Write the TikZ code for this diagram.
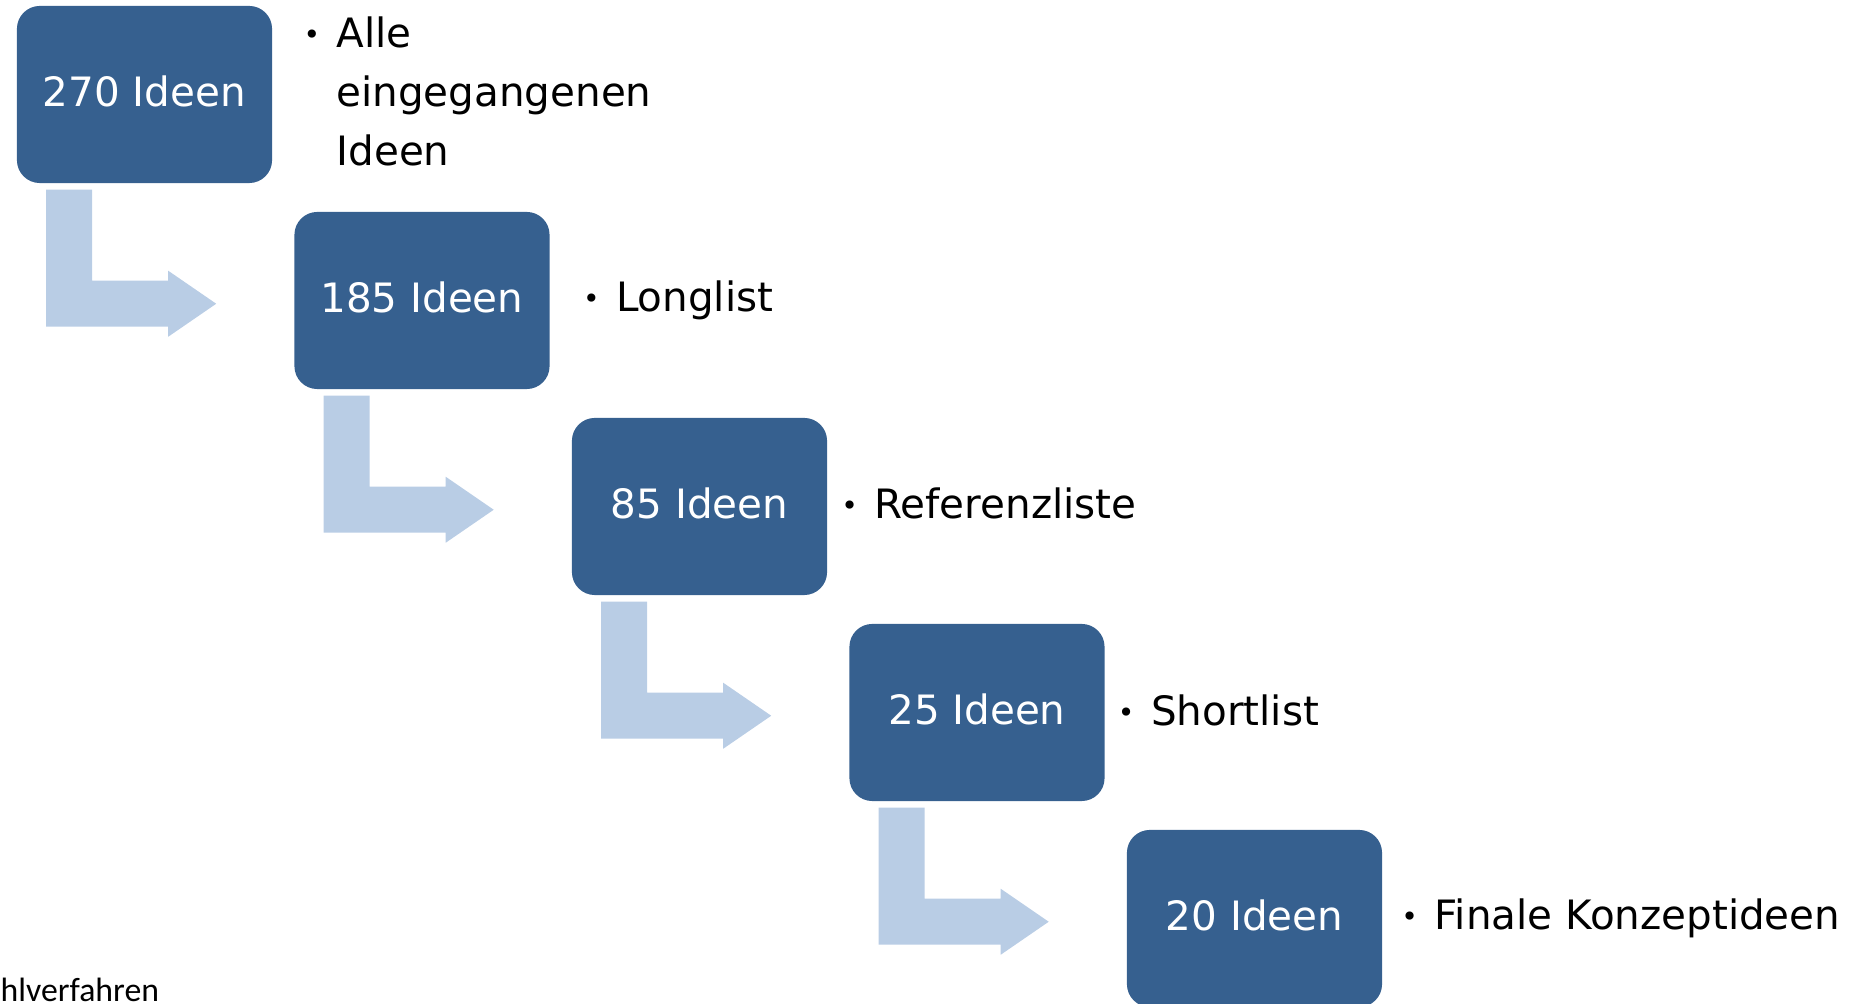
\documentclass[tikz,border=0pt]{standalone}
\usepackage{fontspec}
\setmainfont{DejaVu Sans}
\newfontfamily\capfont{Carlito}
\definecolor{boxblue}{HTML}{36608F}
\definecolor{arrowblue}{HTML}{B9CDE5}
\tikzset{
  ideenbox/.style={fill=boxblue, rounded corners=6.5pt, minimum width=2.55cm, minimum height=1.77cm,
    text=white, inner sep=0pt, text depth=1.7pt, font=\fontsize{11.5}{16.8}\selectfont},
  stufe/.style={anchor=west, inner sep=0pt, align=left, font=\fontsize{11.5}{16.8}\selectfont},
  bentarrow/.style={fill=arrowblue}
}
\newcommand{\blt}{\makebox[0.32cm][l]{\hspace{-0.01cm}\raisebox{0.9pt}{\fontsize{8}{8}\selectfont\textbullet}}}
\newcommand{\bentarr}[1]{\fill[bentarrow, shift={(#1.south west)}] (30,6) -- (76,6) -- (76,97) -- (152,97)
  -- (152,87) -- (200,120) -- (152,153) -- (152,143) -- (30,143) -- cycle;}
\begin{document}
\begin{tikzpicture}[x=0.01cm, y=-0.01cm, line join=round]
			\useasboundingbox (0,0) rectangle (1865,1004);
			% Stufen
			\node[ideenbox] (b1) at (144.5,94.5) {270 Ideen};
			\node[ideenbox] (b2) at (422,300.5) {185 Ideen};
			\node[ideenbox] (b3) at (699.5,506.5) {85 Ideen};
			\node[ideenbox] (b4) at (977,712.5) {25 Ideen};
			\node[ideenbox] (b5) at (1254.5,918.5) {20 Ideen};
			% Beschreibung
			\node[stufe] (t1) at ([xshift=0.31cm,yshift=0.03cm]b1.east) {\blt Alle\\\hspace*{0.32cm}eingegangenen\\\hspace*{0.32cm}Ideen};
			\node[stufe] (t2) at ([xshift=0.33cm]b2.east) {\blt Longlist};
			\node[stufe] (t3) at ([xshift=0.14cm,yshift=0.03cm]b3.east) {\blt Referenzliste};
			\node[stufe] (t4) at ([xshift=0.13cm,yshift=0.02cm]b4.east) {\blt Shortlist};
			\node[stufe] (t5) at ([xshift=0.19cm]b5.east) {\blt Finale Konzeptideen};
			% Pfeile
			\bentarr{b1}
			\bentarr{b2}
			\bentarr{b3}
			\bentarr{b4}
			%\draw[->] (b1) -- (b2);
			\node[anchor=base west, inner sep=0pt, font=\capfont\fontsize{9.6}{11}\selectfont] (cap) at (0,1002) {hlverfahren};
\end{tikzpicture}
\end{document}
